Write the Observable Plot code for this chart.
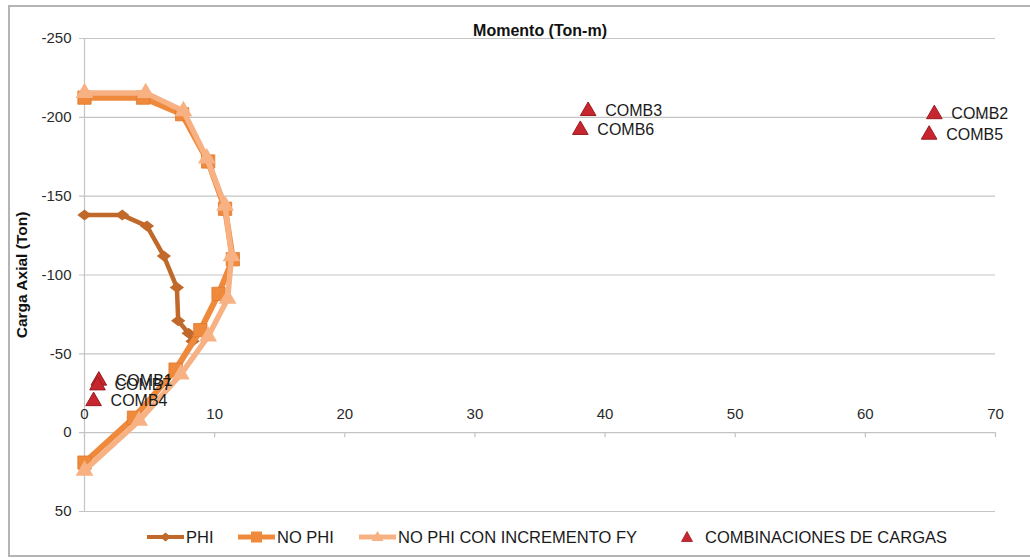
<!DOCTYPE html>
<html>
<head>
<meta charset="utf-8">
<script src="https://cdn.jsdelivr.net/npm/d3@7"></script>
<script src="https://cdn.jsdelivr.net/npm/@observablehq/plot@0.6"></script>
<style>
  html, body { margin: 0; padding: 0; background: #fff; }
  #wrap { position: relative; width: 1030px; height: 558px; overflow: hidden; font-family: "Liberation Sans", Arial, sans-serif; }
  #frame { position: absolute; left: 8px; top: 5px; width: 1040px; height: 552px; box-sizing: border-box; border: 2px solid #b4b4b4; }
  #chart { position: absolute; left: 0; top: 0; }
  .leg { position: absolute; top: 527px; height: 20px; display: flex; align-items: center; font-size: 16.5px; color: #1a1a1a; white-space: nowrap; }
  .leg svg { display: block; }
</style>
</head>
<body>
<div id="wrap">
  <div id="frame"></div>
  <div id="chart"></div>
  <div id="legend"></div>
</div>
<script>
// ---- data ----
const xTicks = [0, 10, 20, 30, 40, 50, 60, 70];
const yTicks = [-250, -200, -150, -100, -50, 0, 50];

// PHI curve (Momento, Carga Axial)
const phiM = [0, 2.9, 4.8, 6.1, 7.1, 7.2, 8.0, 8.3, 7.0, 3.8, 0];
const phiP = [-138, -138, -131, -112, -92, -71, -63, -58, -40, -9.5, 19];

// NO PHI curve
const noPhiM = [0, 4.5, 7.5, 9.5, 10.8, 11.4, 10.3, 8.9, 7.0, 3.8, 0];
const noPhiP = [-212.5, -212.5, -202, -172, -142, -110, -88, -65, -40, -9.5, 19];

// NO PHI CON INCREMENTO FY curve
const incM = [0, 4.7, 7.6, 9.4, 10.8, 11.3, 11.0, 9.5, 7.4, 4.2, 0];
const incP = [-215.5, -215.5, -204, -174, -144, -112, -85, -61, -37, -7.6, 24];

// Combinaciones de cargas
const combNames = ["COMB1", "COMB2", "COMB3", "COMB4", "COMB5", "COMB6", "COMB7"];
const combM = [1.1, 65.3, 38.7, 0.7, 64.9, 38.1, 1.0];
const combP = [-33, -202, -204, -20, -189, -192, -30];

const seriesNames = ["PHI", "NO PHI", "NO PHI CON INCREMENTO FY", "COMBINACIONES DE CARGAS"];
const titleText = "Momento (Ton-m)";
const yLabelText = "Carga Axial (Ton)";

// ---- build tables ----
const toRows = (ms, ps) => ms.map((m, i) => ({m, p: ps[i]}));
const phi = toRows(phiM, phiP);
const noPhi = toRows(noPhiM, noPhiP);
const inc = toRows(incM, incP);
const combos = combNames.map((n, i) => ({name: n, m: combM[i], p: combP[i]}));

const C_PHI = "#c0692b", C_NOPHI = "#ef8a3c", C_INC = "#f7b183", C_COMB = "#c8262e", C_COMB_S = "#9a1b21";
const GRID = "#c4c4c4";

// wide diamond symbol
const wideDiamond = {
  draw(ctx, size) {
    const r = Math.sqrt(size / Math.PI);
    const w = r * 1.3, h = r;
    ctx.moveTo(-w, 0); ctx.lineTo(0, -h); ctx.lineTo(w, 0); ctx.lineTo(0, h); ctx.closePath();
  }
};

const chart = Plot.plot({
  width: 1030,
  height: 558,
  marginLeft: 84,
  marginRight: 35,
  marginTop: 38,
  marginBottom: 47,
  style: {background: "transparent", fontFamily: "'Liberation Sans', Arial, sans-serif", fontSize: "15px", overflow: "visible"},
  x: {domain: [0, 70], axis: null},
  y: {domain: [-250, 50], reverse: true, axis: null},
  marks: [
    // horizontal gridlines, extended left as tick marks
    Plot.ruleY(yTicks, {y: d => d, x1: () => 0, x2: () => 70, insetLeft: -5, stroke: GRID, strokeWidth: 1.2}),
    // vertical axis line
    Plot.ruleX([0], {x: d => d, stroke: GRID, strokeWidth: 1.2}),
    // x ticks on the zero line
    Plot.ruleX(xTicks, {x: d => d, y1: () => 0, y2: () => 0, insetBottom: -5, stroke: GRID, strokeWidth: 1.2}),
    // y tick labels
    Plot.text(yTicks, {y: d => d, frameAnchor: "left", dx: -13, textAnchor: "end", text: d => String(d), fill: "#2a2a2a", fontSize: 15}),
    // x tick labels above the zero line
    Plot.text(xTicks, {x: d => d, y: () => 0, dy: -18, text: d => String(d), fill: "#2a2a2a", fontSize: 15}),
    // title
    Plot.text([titleText], {frameAnchor: "top", lineAnchor: "middle", textAnchor: "middle", dy: -8, text: d => d, fontWeight: "bold", fontSize: 16, fill: "#111"}),
    // y label
    Plot.text([yLabelText], {frameAnchor: "left", lineAnchor: "middle", textAnchor: "middle", dx: -62, rotate: -90, text: d => d, fontWeight: "bold", fontSize: 15.5, fill: "#111"}),
    // PHI
    Plot.line(phi, {x: "m", y: "p", stroke: C_PHI, strokeWidth: 4.5, strokeLinejoin: "round"}),
    Plot.dot(phi, {x: "m", y: "p", symbol: wideDiamond, r: 5.5, fill: C_PHI, stroke: "none"}),
    // NO PHI
    Plot.line(noPhi, {x: "m", y: "p", stroke: C_NOPHI, strokeWidth: 6, strokeLinejoin: "round"}),
    Plot.dot(noPhi, {x: "m", y: "p", symbol: "square", r: 7.5, fill: C_NOPHI, stroke: "#e07a2e", strokeWidth: 0.8}),
    // NO PHI CON INCREMENTO FY
    Plot.line(inc, {x: "m", y: "p", stroke: C_INC, strokeWidth: 5.5, strokeLinejoin: "round"}),
    Plot.dot(inc, {x: "m", y: "p", symbol: "triangle", r: 6.6, fill: C_INC, stroke: "none"}),
    // combinations
    Plot.dot(combos, {x: "m", y: "p", symbol: "triangle", r: 5.8, fill: C_COMB, stroke: C_COMB_S, strokeWidth: 1}),
    Plot.text(combos, {x: "m", y: "p", text: "name", dx: 17, textAnchor: "start", fill: "#1a1a1a", fontSize: 16})
  ]
});
document.getElementById("chart").appendChild(chart);

// ---- legend ----
const legend = document.getElementById("legend");
const NS = "http://www.w3.org/2000/svg";
function swatch(kind) {
  const w = kind === "comb" ? 14 : 37;
  const svg = document.createElementNS(NS, "svg");
  svg.setAttribute("width", w); svg.setAttribute("height", 20);
  let html = "";
  const cy = 10, cx = w / 2;
  if (kind === "phi") {
    html = `<line x1="0" x2="${w}" y1="${cy}" y2="${cy}" stroke="${C_PHI}" stroke-width="4"/>` +
           `<path d="M${cx-5.5},${cy} L${cx},${cy-4.5} L${cx+5.5},${cy} L${cx},${cy+4.5}Z" fill="${C_PHI}"/>`;
  } else if (kind === "nophi") {
    html = `<line x1="0" x2="${w}" y1="${cy}" y2="${cy}" stroke="${C_NOPHI}" stroke-width="5"/>` +
           `<rect x="${cx-5.5}" y="${cy-5.5}" width="11" height="11" fill="${C_NOPHI}"/>`;
  } else if (kind === "inc") {
    html = `<line x1="0" x2="${w}" y1="${cy}" y2="${cy}" stroke="${C_INC}" stroke-width="5"/>` +
           `<path d="M${cx},${cy-6} L${cx+6},${cy+4} L${cx-6},${cy+4}Z" fill="${C_INC}"/>`;
  } else {
    html = `<path d="M${cx},${cy-5.5} L${cx+5.5},${cy+4.5} L${cx-5.5},${cy+4.5}Z" fill="${C_COMB}" stroke="${C_COMB_S}" stroke-width="0.8"/>`;
  }
  svg.innerHTML = html;
  return svg;
}
const legendItems = [
  {kind: "phi", left: 147, gap: 2},
  {kind: "nophi", left: 238, gap: 2},
  {kind: "inc", left: 359, gap: 2},
  {kind: "comb", left: 680, gap: 11}
];
legendItems.forEach((it, i) => {
  const div = document.createElement("div");
  div.className = "leg";
  div.style.left = it.left + "px";
  div.appendChild(swatch(it.kind));
  const span = document.createElement("span");
  span.style.marginLeft = it.gap + "px";
  span.textContent = seriesNames[i];
  div.appendChild(span);
  legend.appendChild(div);
});
</script>
</body>
</html>
